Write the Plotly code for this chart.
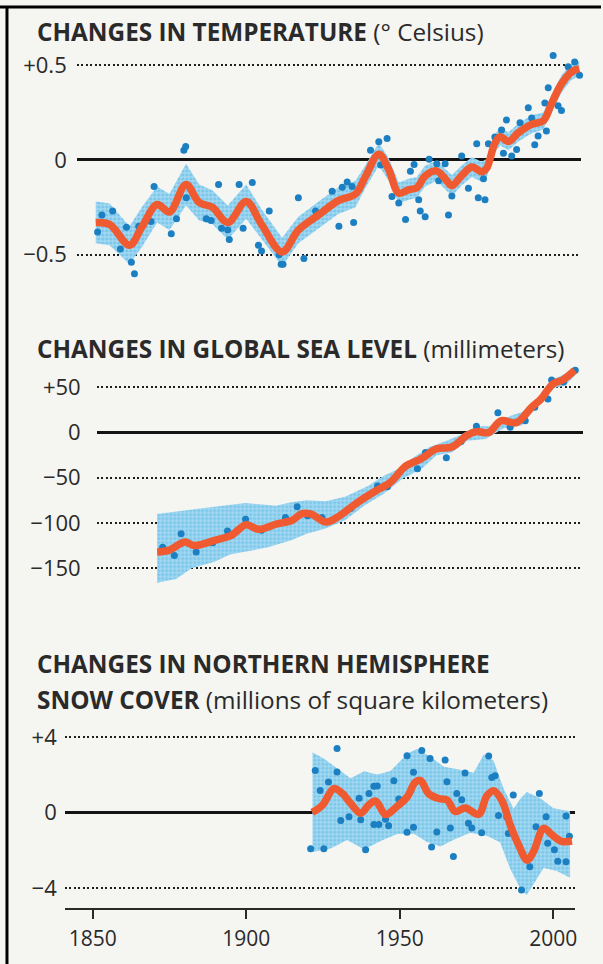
import plotly.graph_objects as go

# ---------------- data ----------------
# Global temperature anomaly (deg C): smoothed curve, uncertainty band, annual values
temp_years = [1851, 1855.5, 1862, 1866, 1871, 1875, 1880.4, 1884.7, 1889, 1894, 1900, 1905,
              1911.7, 1917, 1923.6, 1930, 1935.6, 1938.8, 1943.2, 1946.4, 1949.7, 1953,
              1955.6, 1958.3, 1962, 1964.8, 1967, 1970.2, 1973.5, 1976.7, 1978.3, 1981,
              1982.7, 1985.4, 1988.6, 1993, 1996.8, 1999.4, 2002.7, 2005.9, 2008.5]
temp_smooth = [-0.33, -0.34, -0.45, -0.355, -0.235, -0.275, -0.13, -0.225, -0.25, -0.33, -0.22,
               -0.34, -0.485, -0.37, -0.29, -0.215, -0.18, -0.09, 0.03, -0.05, -0.175, -0.157,
               -0.147, -0.085, -0.058, -0.10, -0.136, -0.083, -0.038, -0.063, -0.045, 0.087,
               0.122, 0.097, 0.142, 0.187, 0.206, 0.293, 0.40, 0.462, 0.48]
temp_upper = [-0.22, -0.23, -0.35, -0.25, -0.14, -0.18, -0.02, -0.13, -0.16, -0.24, -0.13,
              -0.26, -0.41, -0.30, -0.22, -0.145, -0.11, -0.03, 0.09, 0.01, -0.12, -0.10,
              -0.09, -0.03, -0.005, -0.045, -0.08, -0.03, 0.015, -0.01, 0.005, 0.135,
              0.17, 0.145, 0.19, 0.235, 0.25, 0.34, 0.445, 0.505, 0.52]
temp_lower = [-0.44, -0.45, -0.55, -0.46, -0.33, -0.37, -0.24, -0.32, -0.34, -0.42, -0.31,
              -0.42, -0.56, -0.44, -0.36, -0.285, -0.25, -0.15, -0.03, -0.11, -0.23, -0.21,
              -0.20, -0.14, -0.11, -0.155, -0.19, -0.135, -0.09, -0.115, -0.095, 0.04,
              0.075, 0.05, 0.095, 0.14, 0.16, 0.245, 0.355, 0.42, 0.44]
temp_dot_years = [1851.6, 1853, 1856.5, 1859, 1861, 1862.6, 1863.6, 1865, 1869, 1870, 1875.6,
                  1877.3, 1879.7, 1880.3, 1880.5, 1887, 1888.6, 1891, 1892, 1894, 1894.5,
                  1897.7, 1899, 1902, 1904, 1905, 1907.5, 1910.7, 1911.4, 1912, 1917, 1918.8,
                  1922.6, 1928, 1930.2, 1931.3, 1932.9, 1934.5, 1935, 1940.5, 1943.2, 1943.8,
                  1945.9, 1947.5, 1949.7, 1951.9, 1953.5, 1954.7, 1956.2, 1956.7, 1958.3,
                  1959.6, 1962.1, 1962.7, 1964.8, 1965.9, 1967, 1970.2, 1972.4, 1975.1,
                  1975.6, 1977.3, 1977.8, 1978.9, 1981, 1983.2, 1983.8, 1984.8, 1986.5,
                  1988.1, 1989.2, 1991.9, 1993, 1994, 1995.1, 1997.3, 1997.8, 1998.4, 2000,
                  2001.6, 2002.7, 2004.9, 2007, 2008.6]
temp_dots = [-0.38, -0.29, -0.27, -0.47, -0.355, -0.54, -0.60, -0.35, -0.325, -0.14, -0.39,
             -0.31, 0.05, 0.07, -0.20, -0.31, -0.32, -0.13, -0.36, -0.37, -0.42, -0.13, -0.36,
             -0.12, -0.45, -0.48, -0.27, -0.50, -0.55, -0.55, -0.20, -0.52, -0.27, -0.165,
             -0.35, -0.145, -0.117, -0.14, -0.33, 0.05, 0.095, -0.027, 0.113, -0.193, -0.227,
             -0.315, -0.06, -0.025, -0.21, -0.27, -0.30, 0.003, -0.02, -0.11, -0.02, -0.29,
             -0.19, 0.02, -0.15, 0.085, -0.20, -0.10, -0.21, 0.085, 0.12, 0.157, 0.035, 0.21,
             0.02, 0.055, 0.195, 0.275, 0.22, 0.08, 0.126, 0.30, 0.152, 0.38, 0.55, 0.285,
             0.26, 0.49, 0.515, 0.445]
temp_ticks = [0.5, 0, -0.5]
temp_ticktext = ["+0.5", "0", "\u22120.5"]

# Global mean sea level (mm)
sea_years = [1871, 1875, 1880, 1883, 1890, 1895, 1900, 1904, 1910, 1915, 1918, 1921, 1926,
             1930, 1936, 1942, 1947, 1952, 1957, 1962, 1967, 1972, 1975, 1979, 1983, 1988,
             1993, 1996, 2000, 2003, 2007]
sea_smooth = [-132, -130, -121, -125, -119, -114, -102, -107, -101, -97, -90, -90, -99, -93,
              -78, -65, -55, -37, -29, -18, -16, -3, 1, 0, 13, 11, 28, 37, 54, 58, 69]
sea_band_up_years = [1871, 1879.7, 1889.7, 1899.7, 1909.7, 1914.7, 1919.7, 1925.9, 1932.2,
                     1939.7, 1944.7, 1949.7, 1954.7, 1959.7, 1964.7, 1969.6, 1975, 1980,
                     1985, 1990, 1995, 2000, 2004, 2007.3]
sea_band_up = [-90, -86, -82, -78, -81, -77, -75, -76, -71, -59, -48, -40, -27, -16, -10, -3,
               7, 7, 17, 23, 38, 59, 65, 73]
sea_band_lo_years = [1871, 1877.2, 1882.2, 1889.7, 1894.7, 1900.9, 1907.1, 1914.7, 1919.7,
                     1925.9, 1932.2, 1938.4, 1944.7, 1950.9, 1957.2, 1962, 1967, 1972, 1978,
                     1984, 1990, 1995, 2000, 2004, 2007.3]
sea_band_lo = [-166, -162, -150, -143, -135, -131, -127, -119, -112, -106, -97, -81, -68, -51,
               -40, -25, -22, -9, -7, 5, 8, 31, 49, 52, 64]
sea_dot_years = [1872.8, 1876.6, 1878.8, 1883.7, 1889.1, 1893.9, 1899.8, 1905, 1912.8, 1916.6,
                 1920, 1924.7, 1928, 1934, 1942.8, 1946, 1952, 1955.8, 1958.4, 1965.2, 1970,
                 1975, 1982, 1986, 1990.9, 1994, 1998.3, 1999.5, 2003.4, 2007.2]
sea_dots = [-127, -136, -112, -132, -122, -109, -96, -108, -94, -82, -92, -94, -97, -84, -59,
            -60, -37, -40, -22, -28, -10, 7, 22, 6, 13, 28, 37, 58, 56, 69]
sea_ticks = [50, 0, -50, -100, -150]
sea_ticktext = ["+50", "0", "\u221250", "\u2212100", "\u2212150"]

# Northern Hemisphere snow cover (million km^2)
snow_years = [1921.5, 1924.8, 1928.6, 1931.3, 1934, 1937.3, 1940, 1942.2, 1945.4, 1948.7,
              1952.4, 1955.1, 1956.8, 1959.4, 1962.7, 1965.4, 1968.1, 1971.4, 1975.7, 1978.4,
              1980.6, 1983.3, 1986.1, 1988.8, 1991.5, 1993.6, 1996.9, 1999.6, 2002.8, 2006.1]
snow_smooth = [0.02, 0.39, 1.28, 1.02, 0.5, -0.03, 0.42, 0.61, -0.1, 0.27, 0.82, 1.62, 1.71,
               1.01, 0.75, 0.68, 0.06, 0.25, -0.09, 0.89, 1.16, 0.64, -0.69, -1.73, -2.52,
               -2.07, -0.83, -1.17, -1.52, -1.5]
snow_band_up_years = [1921.6, 1925.4, 1929.7, 1934, 1938.4, 1942.7, 1947, 1952.5, 1955.7, 1960,
                      1964.4, 1969.8, 1974.1, 1977.4, 1980.6, 1983.9, 1987.1, 1989.3, 1991.4,
                      1995.8, 2000.1, 2005.5]
snow_band_up = [3.2, 2.86, 2.34, 1.82, 2.19, 2.03, 2.21, 3.12, 3.39, 2.96, 2.44, 2.28, 2.11,
                3.09, 2.75, 1.26, 0.21, 0.74, 1.10, 0.76, 0.24, 0.08]
snow_band_lo_years = [1921.6, 1927.5, 1932.9, 1938.4, 1943.8, 1949.2, 1954.6, 1958.9, 1963.3,
                      1967.6, 1973, 1978.4, 1982.7, 1986, 1989.3, 1991.4, 1993.6, 1996.9,
                      2001.2, 2005.5]
snow_band_lo = [-2.09, -1.9, -1.45, -1.96, -1.5, -1.13, -1.12, -1.55, -1.8, -1.44, -1.06,
                -1.23, -1.57, -2.97, -4.03, -4.37, -3.84, -2.94, -3.1, -3.45]
snow_dot_years = [1929.6, 1922.5, 1924.1, 1926.8, 1929.6, 1921, 1925.3, 1930.8, 1933.5, 1936.8,
                  1937.3, 1938.9, 1940, 1941.6, 1942.7, 1941.6, 1943.2, 1945.4, 1946.4, 1948.1,
                  1949.7, 1952.4, 1954.5, 1952.4, 1954.5, 1957.2, 1959.9, 1960.4, 1962.1,
                  1964.8, 1965.4, 1966.5, 1967.5, 1968.6, 1970.2, 1971.3, 1972.4, 1973.5,
                  1976.7, 1979, 1980, 1981.1, 1982.2, 1984.9, 1987, 1985.4, 1989.7, 1992.4,
                  1989.7, 1994.4, 1995.5, 1997.7, 1998.2, 2000.4, 2001.5, 2004.2, 2004.2, 2005.3]
snow_dots = [3.4, 2.24, 1.18, 1.62, 2.16, -1.92, -1.91, -0.41, -0.22, 0.76, -0.37, -1.97, 1.02,
             1.4, 1.41, -0.63, -0.63, -0.35, -0.7, 1.69, 0.72, 3.02, 2.14, -1.04, -0.77, 3.3,
             2.87, -1.82, -1.03, 2.79, 1.64, -0.82, -2.33, 1.02, 0.68, 2.1, -0.56, -0.82,
             -1.07, 3.0, 1.86, 1.96, -0.15, -0.23, 0.93, -1.1, -2.07, -2.87, -4.1, -0.75, 1.02,
             -0.22, -1.62, -1.97, -2.58, -0.18, -2.6, -1.25]
snow_ticks = [4, 0, -4]
snow_ticktext = ["+4", "0", "\u22124"]

year_ticks = [1850, 1900, 1950, 2000]

# ---------------- styling / geometry ----------------
W, H = 603, 964
INK = "#2a2a2a"
RED = "#ef5a30"
DOT = "#1b7fc2"
BAND_BG = "#a3d8f1"
BAND_FG = "#4eb2e2"
FONT = "Open Sans"

PX_1850, PX_PER_YEAR = 93.0, 3.08


def fx(px):
    return px / W


def fy(px):
    return 1 - px / H


def year_at(px):
    return 1850 + (px - PX_1850) / PX_PER_YEAR


# (x extent px, y extent px, zero px, px per unit, ticks, ticktext, label standoff)
panels = [
    dict(x=(77, 583), y=(40, 290), zero=159.0, ppu=190.0,
         ticks=temp_ticks, text=temp_ticktext, standoff=9),
    dict(x=(97, 585), y=(360, 612), zero=432.0, ppu=0.905,
         ticks=sea_ticks, text=sea_ticktext, standoff=15),
    dict(x=(65, 577), y=(722, 908), zero=812.5, ppu=18.875,
         ticks=snow_ticks, text=snow_ticktext, standoff=7),
]

fig = go.Figure()


def add_panel(i, years, smooth, up_years, up, lo_years, lo, dot_years, dots):
    xa = "x" if i == 0 else f"x{i + 1}"
    ya = "y" if i == 0 else f"y{i + 1}"
    band_x = list(up_years) + list(lo_years)[::-1]
    band_y = list(up) + list(lo)[::-1]
    fig.add_trace(go.Scatter(
        x=band_x, y=band_y, xaxis=xa, yaxis=ya, mode="lines", fill="toself",
        line=dict(width=0, color=BAND_BG), fillcolor=BAND_BG,
        fillpattern=dict(shape=".", bgcolor=BAND_BG, fgcolor=BAND_FG, size=4, solidity=0.45),
        hoverinfo="skip", showlegend=False))
    fig.add_trace(go.Scatter(
        x=dot_years, y=dots, xaxis=xa, yaxis=ya, mode="markers",
        marker=dict(size=7, color=DOT), cliponaxis=False, showlegend=False))
    fig.add_trace(go.Scatter(
        x=years, y=smooth, xaxis=xa, yaxis=ya, mode="lines",
        line=dict(color=RED, width=7.5, shape="spline", smoothing=1.0),
        showlegend=False))


add_panel(0, temp_years, temp_smooth, temp_years, temp_upper, temp_years, temp_lower,
          temp_dot_years, temp_dots)
add_panel(1, sea_years, sea_smooth, sea_band_up_years, sea_band_up, sea_band_lo_years,
          sea_band_lo, sea_dot_years, sea_dots)
add_panel(2, snow_years, snow_smooth, snow_band_up_years, snow_band_up, snow_band_lo_years,
          snow_band_lo, snow_dot_years, snow_dots)

layout = dict(
    width=W, height=H, margin=dict(l=0, r=0, t=0, b=0),
    paper_bgcolor="#f5f5f2", plot_bgcolor="rgba(0,0,0,0)",
    font=dict(family=FONT, color=INK), showlegend=False,
)

for i, p in enumerate(panels):
    xk = "xaxis" if i == 0 else f"xaxis{i + 1}"
    yk = "yaxis" if i == 0 else f"yaxis{i + 1}"
    ytop, ybot = p["y"]
    layout[yk] = dict(
        domain=[fy(ybot), fy(ytop)],
        range=[-(ybot - p["zero"]) / p["ppu"], (p["zero"] - ytop) / p["ppu"]],
        anchor="x" if i == 0 else f"x{i + 1}",
        tickvals=p["ticks"], ticktext=p["text"], ticks="",
        tickfont=dict(size=22, color=INK), ticklabelstandoff=p["standoff"],
        showgrid=True, gridcolor="#1e1e1e", gridwidth=2, griddash="2px,2.5px",
        zeroline=True, zerolinecolor="#141414", zerolinewidth=2.5,
        showline=False, fixedrange=True,
    )
    x0, x1 = p["x"]
    xax = dict(
        domain=[fx(x0), fx(x1)], range=[year_at(x0), year_at(x1)],
        anchor="y" if i == 0 else f"y{i + 1}",
        showgrid=False, zeroline=False, fixedrange=True,
    )
    if i < 2:
        xax.update(showline=False, showticklabels=False, ticks="")
    else:
        xax.update(showline=True, linecolor=INK, linewidth=2, ticks="outside",
                   ticklen=9, tickwidth=2, tickcolor=INK, tickvals=year_ticks,
                   tickfont=dict(size=21, color=INK), ticklabelstandoff=2)
    layout[xk] = xax

fig.update_layout(**layout)

# panel headings
titles = [
    (31, "<b>CHANGES IN TEMPERATURE</b> (\u00b0 Celsius)"),
    (348, "<b>CHANGES IN GLOBAL SEA LEVEL</b> (millimeters)"),
    (663, "<b>CHANGES IN NORTHERN HEMISPHERE</b>"),
    (699, "<b>SNOW COVER</b> (millions of square kilometers)"),
]
for ypx, txt in titles:
    fig.add_annotation(text=txt, xref="paper", yref="paper", x=fx(35), y=fy(ypx),
                       xanchor="left", yanchor="middle", showarrow=False,
                       font=dict(family=FONT, size=24.3, color=INK))

# page frame (top and left rules)
fig.add_shape(type="line", xref="paper", yref="paper", x0=0, x1=1, y0=fy(6), y1=fy(6),
              line=dict(color="#000", width=3))
fig.add_shape(type="line", xref="paper", yref="paper", x0=fx(7), x1=fx(7), y0=fy(5), y1=0,
              line=dict(color="#000", width=3))

fig.write_html("out.html")
